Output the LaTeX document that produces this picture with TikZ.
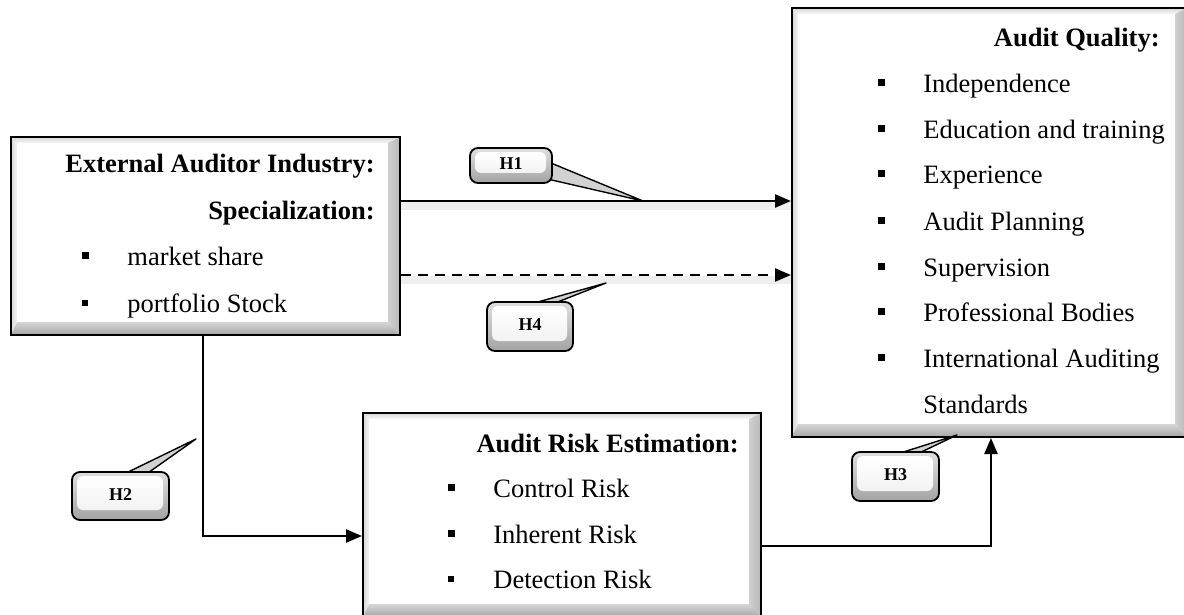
\documentclass[tikz,border=0pt]{standalone}
\usepackage{fontspec}
\setmainfont{Liberation Serif}
\usetikzlibrary{arrows.meta,calc,fit}

\tikzset{
  % large framed box with a 3D bevel edge
  bevelbox/.style={draw=black, line width=1pt, fill=white, inner sep=0pt,
    path picture={
      \coordinate (bvsw) at (path picture bounding box.south west);
      \coordinate (bvne) at (path picture bounding box.north east);
      \coordinate (bvnw) at (bvsw |- bvne);
      \coordinate (bvse) at (bvne |- bvsw);
      \shade[top color=gray!32, bottom color=gray!6]
        (bvnw) -- (bvne) -- ($(bvne)+(-6pt,-3pt)$) -- ($(bvnw)+(3pt,-3pt)$) -- cycle;
      \shade[left color=gray!32, right color=gray!8]
        (bvnw) -- ($(bvnw)+(3pt,-3pt)$) -- ($(bvsw)+(3pt,6.5pt)$) -- (bvsw) -- cycle;
      \shade[left color=gray!38, right color=gray!55]
        (bvne) -- (bvse) -- ($(bvse)+(-6pt,6.5pt)$) -- ($(bvne)+(-6pt,-3pt)$) -- cycle;
      \shade[top color=gray!32, bottom color=gray!70]
        (bvsw) -- ($(bvsw)+(3pt,6.5pt)$) -- ($(bvse)+(-6pt,6.5pt)$) -- (bvse) -- cycle;
    }},
  % small rounded hypothesis tag
  callout/.style={draw=black, line width=0.9pt, rounded corners=4pt, inner sep=0pt,
    font=\fontsize{9}{10}\bfseries\selectfont,
    path picture={
      \coordinate (cosw) at (path picture bounding box.south west);
      \coordinate (cone) at (path picture bounding box.north east);
      \shade[top color=gray!25, bottom color=gray!72] (cosw) rectangle (cone);
      \shade[top color=white, bottom color=gray!10, rounded corners=3pt]
        ($(cosw)+(2.5pt,5pt)$) rectangle ($(cone)+(-3pt,-2pt)$);
    }},
  wedge/.style={draw=black, line width=0.7pt, fill=gray!35, line join=round},
  ttl/.style={font=\fontsize{13.25}{16}\bfseries\selectfont, anchor=base east, inner sep=0pt},
  itm/.style={font=\fontsize{13.25}{16}\selectfont, anchor=base west, inner sep=0pt},
  bul/.style={fill=black, inner sep=0pt, minimum size=3.5pt},
  sbul/.style={fill=black, inner sep=0pt, minimum size=2.6pt},
  conn/.style={line width=1.2pt, -{Triangle[length=8pt,width=6.5pt]}},
  dashline/.style={dash pattern=on 5pt off 3.5pt},
  shadowed/.style={preaction={draw=gray!13, line width=4pt, transform canvas={yshift=-2.5pt}, -}},
}

\begin{document}
\begin{tikzpicture}[x=0.5pt,y=-0.5pt]
\useasboundingbox (0,0) rectangle (1184,615);
\clip (0,0) rectangle (1184,615);

% the three main boxes
\node[bevelbox, fit={(11,137) (400,335)}] (ext) {};
\node[bevelbox, fit={(792,8) (1187,437)}] (aq) {};
\node[bevelbox, fit={(363,413) (761,617)}] (risk) {};

% External auditor box
\node[ttl] (extA) at (375,173) {External Auditor Industry:};
\node[ttl] (extB) at (375,220) {Specialization:};
\node[itm] (extC) at (127,265) {market share};
\node[itm] (extD) at (127,312) {portfolio Stock};
\node[bul]  (bC) at ($(extC.base west)+(-42,-10)$) {};
\node[sbul] (bD) at ($(extD.base west)+(-42,-9)$) {};

% Audit quality box
\node[ttl] (q0) at (1160,47) {Audit Quality:};
\node[itm] (q1) at (923,93) {Independence};
\node[itm] (q2) at (923,138.5) {Education and training};
\node[itm] (q3) at (923,184) {Experience};
\node[itm] (q4) at (923,230) {Audit Planning};
\node[itm] (q5) at (923,276) {Supervision};
\node[itm] (q6) at (923,321.5) {Professional Bodies};
\node[itm] (q7) at (923,367) {International Auditing};
\node[itm] (q8) at (923,413) {Standards};
\foreach \i in {1,...,7}{
  \node[bul] (bq\i) at ($(q\i.base west)+(-42,-10)$) {};
}

% Audit risk box
\node[ttl] (r0) at (739,452) {Audit Risk Estimation:};
\node[itm] (r1) at (493,497) {Control Risk};
\node[itm] (r2) at (493,543) {Inherent Risk};
\node[itm] (r3) at (493,588) {Detection Risk};
\node[bul]  (br1) at ($(r1.base west)+(-42,-10)$) {};
\node[bul]  (br2) at ($(r2.base west)+(-42,-10)$) {};
\node[sbul] (br3) at ($(r3.base west)+(-42,-9)$) {};

% connector levels
\coordinate (y1) at (0,201);
\coordinate (y4) at (0,275);
\coordinate (k2) at (203,536);
\coordinate (k3) at (991,546);

\draw[conn, shadowed] (ext.east |- y1) -- (aq.west |- y1);
\draw[conn, dashline, shadowed] (ext.east |- y4) -- (aq.west |- y4);
\draw[conn] (ext.south -| k2) |- (risk.west |- k2);
\draw[conn] (risk.east |- k3) -| (aq.south -| k3);

% hypothesis tags with their pointers
\coordinate (t1) at (643,201);
\coordinate (t4) at (606,283);
\coordinate (t2) at (196,439);
\coordinate (t3) at (957,435);
\coordinate (w1a) at (546,161);  \coordinate (w1b) at (543,178);
\coordinate (w4a) at (527,305);  \coordinate (w4b) at (550,305);
\coordinate (w2a) at (122,475);  \coordinate (w2b) at (145,475);
\coordinate (w3a) at (894,455);  \coordinate (w3b) at (915,455);

\filldraw[wedge] (w1a) -- (t1) -- (w1b) -- cycle;
\filldraw[wedge] (w4a) -- (t4) -- (w4b) -- cycle;
\filldraw[wedge] (w2a) -- (t2) -- (w2b) -- cycle;
\filldraw[wedge] (w3a) -- (t3) -- (w3b) -- cycle;

\node[callout, minimum width=41pt, minimum height=17.5pt] (c1) at (511,165.5) {\raisebox{1.5pt}{H1}};
\node[callout, minimum width=43pt, minimum height=24.5pt] (c4) at (530,326.5) {\raisebox{1.5pt}{H4}};
\node[callout, minimum width=48.5pt, minimum height=24pt] (c2) at (120.5,496) {\raisebox{1.5pt}{H2}};
\node[callout, minimum width=43.5pt, minimum height=24.5pt] (c3) at (895.5,476.5) {\raisebox{1.5pt}{H3}};

\end{tikzpicture}
\end{document}
